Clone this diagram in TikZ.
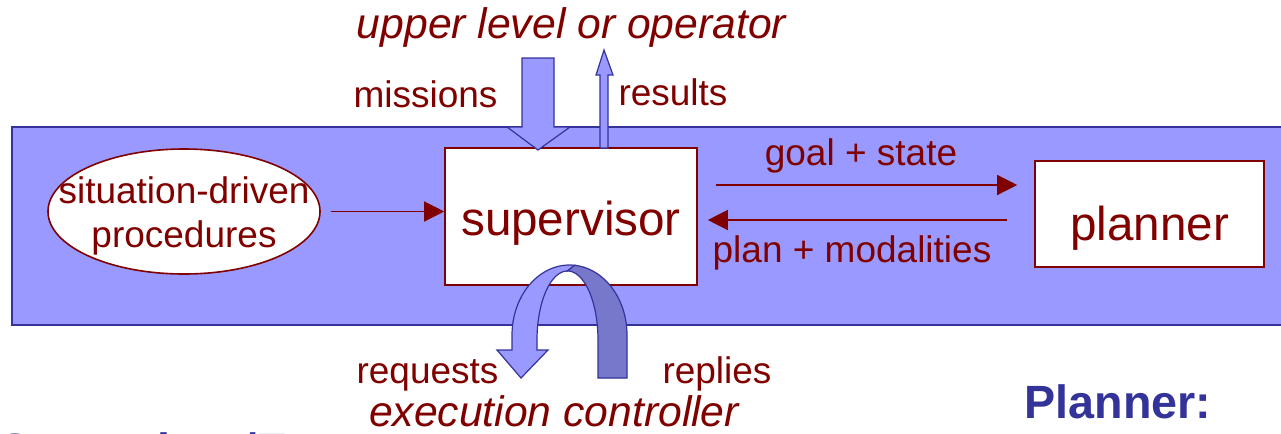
\documentclass[tikz,border=0pt]{standalone}
\usepackage{fontspec}
\setmainfont{Liberation Sans}
\usetikzlibrary{arrows.meta,shapes.geometric}
\definecolor{wine}{HTML}{800000}
\definecolor{bandblue}{HTML}{9999FF}
\definecolor{edgeblue}{HTML}{333399}
\definecolor{backblue}{HTML}{7777CC}
\definecolor{titleblue}{HTML}{333399}
\begin{document}
\begin{tikzpicture}[x=0.75pt,y=-0.75pt,
  lbl/.style={text=wine,inner sep=0pt,anchor=base,font=\fontsize{27.75}{33}\selectfont},
  big/.style={lbl,font=\fontsize{35.7}{42}\selectfont},
  ital/.style={lbl,font=\fontsize{32}{38}\selectfont\itshape},
  heading/.style={text=titleblue,inner sep=0pt,font=\fontsize{35}{42}\selectfont\bfseries},
  box/.style={draw=wine,fill=white,line width=1.2pt,inner sep=0pt},
  flow/.style={draw=wine,line width=1pt,-{Triangle[length=15pt,width=15pt]}},
  fat/.style={draw=edgeblue,line width=0.9pt,fill=bandblue,line join=miter},
  fatback/.style={fat,fill=backblue}]
\useasboundingbox (0,0) rectangle (1281,433);
\clip (0,0) rectangle (1281,433);
\fill[white] (0,0) rectangle (1281,433);

% the layer band
\draw[fill=bandblue,draw=edgeblue,line width=1.1pt] (12,127) rectangle (1300,325);

% components
\node[box,ellipse,minimum width=204pt,minimum height=93.75pt] (proc) at (184,211.5) {};
\node[lbl] (proc1) at (184,203) {situation-driven};
\node[lbl] (proc2) at (184,247) {procedures};

\node[box,minimum width=189pt,minimum height=102.75pt] (sup) at (571,216.5) {};
\node[big] (suptxt) at (571,235) {supervisor};

\node[box,minimum width=171.75pt,minimum height=79.5pt] (pl) at (1149.5,214) {};
\node[big] (pltxt) at (1149.5,240) {planner};

% exchanges inside the layer
\draw[flow,shorten <=7.5pt] (proc.east) -- (sup.west |- proc.east);
\draw[flow,shorten <=13.5pt,shorten >=12.75pt] (sup.east |- 0,185) -- (pl.west |- 0,185);
\draw[flow,shorten <=20.25pt,shorten >=7.5pt] (pl.west |- 0,220) -- (sup.east |- 0,220);
\node[lbl] (goal) at (861,165) {goal + state};
\node[lbl] (plan) at (852,262) {plan + modalities};

% upper level: missions down, results up
\draw[fat] (522,58) -- (554,58) -- (554,127) -- (570,127) -- (538,150)
  -- (507,127) -- (522,127) -- cycle;
\draw[fat] (600,148) -- (608,148) -- (608,75) -- (613,75) -- (604,50)
  -- (596,75) -- (600,75) -- cycle;
\node[ital] (upper) at (571.5,38) {upper level or operator};
\node[lbl] (miss) at (425.5,107) {missions};
\node[lbl] (res) at (673,105) {results};

% execution controller: twisted U-turn arrow
\draw[fat] (497,350) -- (512,350) -- (512,335)
  -- plot[domain=180:275,samples=40] ({569.5+57.5*cos(\x)},{335+70*sin(\x)})
  -- (567.5,271)
  -- plot[domain=270:180,samples=40] ({567.5+30.5*cos(\x)},{340+69*sin(\x)})
  -- (537,350) -- (548,350) -- (521,378) -- cycle;
\draw[fatback] (574.5,265.3)
  -- plot[domain=275:360,samples=40] ({569.5+57.5*cos(\x)},{335+70*sin(\x)})
  -- (627,378) -- (598,378) -- (598,340)
  -- plot[domain=360:270,samples=40] ({567.5+30.5*cos(\x)},{340+69*sin(\x)})
  -- cycle;
\node[lbl] (req) at (427.5,383) {requests};
\node[lbl] (rep) at (717,383) {replies};
\node[ital] (exec) at (554,426) {execution controller};

% section headings below
\node[heading,anchor=base] (plhead) at (1118,418) {Planner:};
\node[heading,anchor=base west] (suphead) at (-1,466) {Supervisor/Executor:};
\end{tikzpicture}
\end{document}
